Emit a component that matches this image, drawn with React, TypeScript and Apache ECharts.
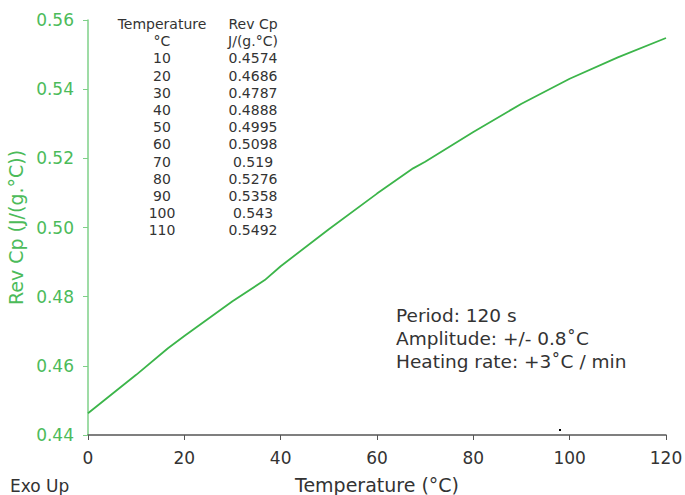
import React, { useEffect, useRef } from "react";
import * as echarts from "echarts";

const temps = [0, 10, 16.6, 20, 30, 36.7, 40, 50, 60, 67.5, 70, 80, 90, 100, 110, 120];
const cpValues = [0.4463, 0.4574, 0.4651, 0.4686, 0.4787, 0.4848, 0.4888, 0.4995, 0.5098, 0.5171, 0.519, 0.5276, 0.5358, 0.543, 0.5492, 0.5548];
const tableTemps = ["10", "20", "30", "40", "50", "60", "70", "80", "90", "100", "110"];
const tableCp = ["0.4574", "0.4686", "0.4787", "0.4888", "0.4995", "0.5098", "0.519", "0.5276", "0.5358", "0.543", "0.5492"];
const notes = ["Period: 120 s", "Amplitude: +/- 0.8\u02DAC", "Heating rate: +3\u02DAC / min"];

const FONT = "DejaVu Sans";
const GREEN = "#3cb54a";
const LABEL_GREEN = "#4cbb5a";
const DARK = "#333333";

export default function App() {
  const ref = useRef<HTMLDivElement>(null);
  useEffect(() => {
    if (!ref.current) return;
    const chart = echarts.init(ref.current, undefined, { renderer: "svg" });
    const graphics: any[] = [];
    const header1 = ["Temperature", "\u00B0C", ...tableTemps];
    const header2 = ["Rev Cp", "J/(g.\u00B0C)", ...tableCp];
    header1.forEach((t, i) => {
      graphics.push({ type: "text", x: 162, y: 24 + i * 17.2, style: { text: t, fontFamily: FONT, fontSize: 14, fill: DARK, textAlign: "center", textVerticalAlign: "middle" } });
    });
    header2.forEach((t, i) => {
      graphics.push({ type: "text", x: 253, y: 24 + i * 17.2, style: { text: t, fontFamily: FONT, fontSize: 14, fill: DARK, textAlign: "center", textVerticalAlign: "middle" } });
    });
    notes.forEach((t, i) => {
      graphics.push({ type: "text", x: 396, y: 315 + i * 23, style: { text: t, fontFamily: FONT, fontSize: 18.5, fill: DARK, textAlign: "left", textVerticalAlign: "middle" } });
    });
    graphics.push({ type: "text", x: 10, y: 486, style: { text: "Exo Up", fontFamily: FONT, fontSize: 17, fill: DARK, textAlign: "left", textVerticalAlign: "middle" } });
    graphics.push({ type: "rect", shape: { x: 559, y: 429, width: 2, height: 2 }, style: { fill: "#000" } });

    chart.setOption({
      animation: false,
      grid: { left: 88, right: 19, top: 20, bottom: 60, outerBoundsMode: "none", containLabel: false },
      xAxis: {
        type: "value", min: 0, max: 120, interval: 20,
        name: "Temperature (\u00B0C)", nameLocation: "middle", nameGap: 40,
        nameTextStyle: { fontFamily: FONT, fontSize: 19, color: DARK },
        axisLine: { lineStyle: { color: "#555", width: 1.5 } },
        axisTick: { length: 5, lineStyle: { color: "#555" } },
        axisLabel: { fontFamily: FONT, fontSize: 17, color: DARK, margin: 14 },
        splitLine: { show: false },
      },
      yAxis: {
        type: "value", min: 0.44, max: 0.56, interval: 0.02,
        name: "Rev Cp (J/(g.\u00B0C))", nameLocation: "middle", nameGap: 61,
        nameTextStyle: { fontFamily: FONT, fontSize: 19, color: LABEL_GREEN },
        axisLine: { show: true, lineStyle: { color: "#7fd088", width: 1.5 } },
        axisTick: { show: true, length: 5, lineStyle: { color: "#7fd088" } },
        axisLabel: { fontFamily: FONT, fontSize: 17, color: LABEL_GREEN, margin: 14, formatter: (v: number) => v.toFixed(2) },
        splitLine: { show: false },
      },
      series: [{
        type: "line",
        data: temps.map((t, i) => [t, cpValues[i]]),
        showSymbol: false,
        smooth: false,
        lineStyle: { color: GREEN, width: 1.8 },
      }],
      graphic: graphics,
    });
    return () => chart.dispose();
  }, []);
  return <div ref={ref} style={{ width: 685, height: 495, position: "absolute", left: 0, top: 0 }} />;
}
